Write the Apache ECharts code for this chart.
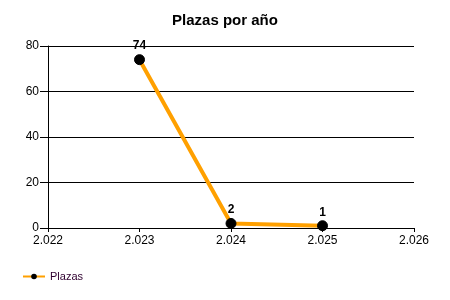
<!DOCTYPE html>
<html><head><meta charset="utf-8">
<script src="https://cdn.jsdelivr.net/npm/echarts@6/dist/echarts.min.js"></script>
<style>html,body{margin:0;padding:0;background:#fff}#c{width:450px;height:300px}</style>
</head><body><div id="c"></div>
<script>
const years = [2023, 2024, 2025];
const plazas = [74, 2, 1];
const seriesName = 'Plazas';
const title = 'Plazas por año';

const chart = echarts.init(document.getElementById('c'), null, {renderer: 'canvas'});
const fmt = v => { const s = String(v); return s.slice(0, s.length - 3) + '.' + s.slice(-3); };
chart.setOption({
  animation: false,
  title: {text: title, left: 'center', top: 8, textStyle: {fontFamily: 'Liberation Sans, Arial', fontSize: 15, fontWeight: 'bold', color: '#000'}},
  grid: {left: 48, right: 36, top: 46, bottom: 72},
  legend: {left: 17, bottom: 13, itemWidth: 22, itemHeight: 7, itemGap: 5,
    textStyle: {fontFamily: 'Liberation Sans, Arial', fontSize: 11, color: '#300030'},
    data: [{name: seriesName}]},
  xAxis: {type: 'value', min: 2022, max: 2026, interval: 1,
    axisLine: {show: true, lineStyle: {color: '#000', width: 1}},
    axisTick: {show: true, length: 4, lineStyle: {color: '#000'}},
    splitLine: {show: false},
    axisLabel: {formatter: fmt, fontFamily: 'Liberation Sans, Arial', fontSize: 12, color: '#000', margin: 7}},
  yAxis: {type: 'value', min: 0, max: 80, interval: 20,
    axisLine: {show: true, lineStyle: {color: '#000', width: 1}},
    axisTick: {show: true, length: 8, lineStyle: {color: '#000'}},
    splitLine: {show: true, lineStyle: {color: '#000', width: 1}},
    axisLabel: {fontFamily: 'Liberation Sans, Arial', fontSize: 12, color: '#000', margin: 9}},
  series: [{
    name: seriesName, type: 'line',
    data: years.map((y, i) => [y, plazas[i]]),
    lineStyle: {color: '#FFA000', width: 4},
    itemStyle: {color: '#000', borderColor: '#000'},
    color: '#FFA000',
    symbol: 'circle', symbolSize: 10,
    label: {show: true, position: 'top', distance: 2, fontFamily: 'Liberation Sans, Arial', fontSize: 12, fontWeight: 'bold', color: '#000',
      formatter: p => p.value[1]}
  }]
});
</script></body></html>
